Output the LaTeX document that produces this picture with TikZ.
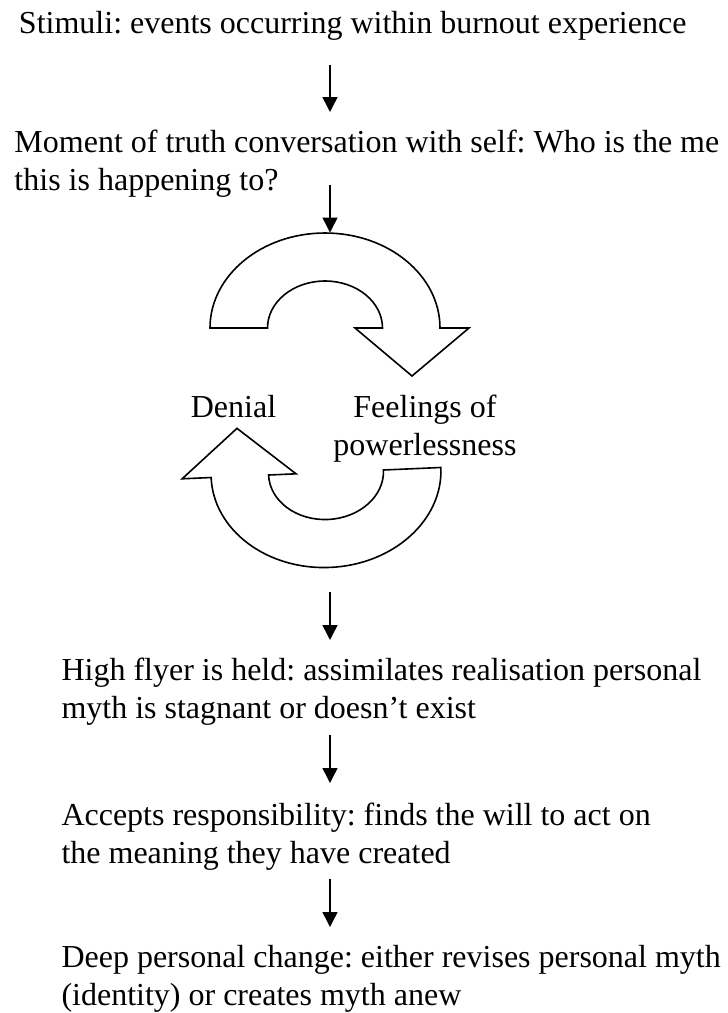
\documentclass[tikz,border=0pt]{standalone}
\usepackage{fontspec}
\setmainfont{Liberation Serif}
\usetikzlibrary{arrows.meta,calc}
\frenchspacing
\newcommand\txtlines[1]{\begin{tabular}[t]{@{}l@{}}#1\end{tabular}}
\newcommand\txtcenter[1]{\begin{tabular}[t]{@{}c@{}}#1\end{tabular}}
\begin{document}
\begin{tikzpicture}[x=0.375pt,y=-0.375pt,
  txt/.style={inner sep=0pt,outer sep=0pt,anchor=base west,font=\frenchspacing\fontsize{12}{14.25}\selectfont},
  lbl/.style={inner sep=0pt,outer sep=0pt,anchor=base,font=\frenchspacing\fontsize{12}{14.25}\selectfont},
  flow/.style={-{Triangle[width=5.6pt,length=5.6pt]},line width=0.55pt},
  loopar/.style={draw,line width=0.6pt,line join=miter}]
\useasboundingbox (0,0) rectangle (727,1013);
\coordinate (ax) at (330,0);
% texts
\node[txt] (stim) at (19,33) {\txtlines{Stimuli: events occurring within burnout experience}};
\node[txt] (moment) at (14.5,152) {\txtlines{Moment of truth conversation with self: Who is the me\\this is happening to?}};
\node[lbl] (denial) at (233.5,417) {\txtcenter{Denial}};
\node[lbl] (feel) at (425,417) {\txtcenter{Feelings of\\powerlessness}};
\node[txt] (high) at (61.5,680) {\txtlines{High flyer is held: assimilates realisation personal\\myth is stagnant or doesn’t exist}};
\node[txt] (accept) at (61.5,825) {\txtlines{Accepts responsibility: finds the will to act on\\the meaning they have created}};
\node[txt] (deep) at (61.5,967) {\txtlines{Deep personal change: either revises personal myth\\(identity) or creates myth anew}};
% upper circular arrow
\begin{scope}[shift={(325,328)}]
  \path[loopar] (-115,0) arc[start angle=180,end angle=360,x radius=115,y radius=95]
    -- (144,0) -- (87,48) -- (30,0) -- (57.5,0)
    arc[start angle=0,end angle=-180,x radius=57.5,y radius=47] -- cycle;
\end{scope}
\coordinate (uptop) at (330,232.5);
% lower circular arrow
\begin{scope}[shift={(326,472.5)},rotate=182.5]
  \path[loopar] (-115,0) arc[start angle=180,end angle=360,x radius=115,y radius=95]
    -- (144,0) -- (87,48) -- (30,0) -- (57.5,0)
    arc[start angle=0,end angle=-180,x radius=57.5,y radius=47] -- cycle;
\end{scope}
\coordinate (lowbot) at (330,568);
% straight arrows
\draw[flow] ($(stim.south -| ax)+(0,20.6)$) -- ($(moment.north -| ax)+(0,-13.4)$);
\draw[flow] ($(moment.south -| ax)+(0,-16.4)$) -- (uptop);
\draw[flow] ($(lowbot)+(0,24)$) -- ($(high.north -| ax)+(0,-13.4)$);
\draw[flow] ($(high.south -| ax)+(0,5.6)$) -- ($(accept.north -| ax)+(0,-15.4)$);
\draw[flow] ($(accept.south -| ax)+(0,4.6)$) -- ($(deep.north -| ax)+(0,-13.4)$);
\end{tikzpicture}
\end{document}
